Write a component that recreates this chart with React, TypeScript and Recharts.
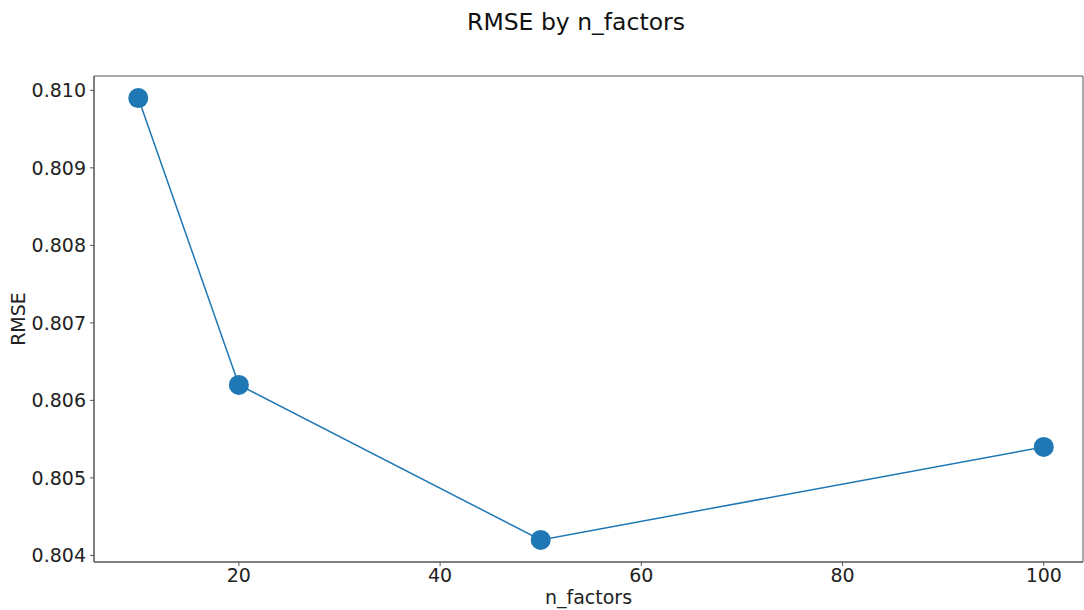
import React from 'react';
import { LineChart, Line, XAxis, YAxis, ReferenceArea } from 'recharts';

const nFactors = [10, 20, 50, 100];
const rmse = [0.8099, 0.8062, 0.8042, 0.8054];
const xTicks = [20, 40, 60, 80, 100];
const yTicks = [0.804, 0.805, 0.806, 0.807, 0.808, 0.809, 0.81];

const data = nFactors.map((n, i) => ({ n, rmse: rmse[i] }));

const X_DOMAIN: [number, number] = [5.6, 103.9];
const Y_DOMAIN: [number, number] = [0.803915, 0.810185];

const FONT = '"DejaVu Sans", sans-serif';
const frame = '#555';
const tickStyle = { fontSize: 19, fill: '#222', fontFamily: FONT };

export default function App() {
  return (
    <div style={{ position: 'absolute', left: 0, top: 0, width: 1084, height: 610, background: '#fff', fontFamily: FONT }}>
      <div style={{ position: 'absolute', top: 8, left: 0, width: 1152, textAlign: 'center', fontSize: 23.5, color: '#111' }}>
        RMSE by n_factors
      </div>
      <LineChart width={1084} height={610} data={data} margin={{ top: 76, right: 1, bottom: 0, left: 0 }}>
        <XAxis
          dataKey="n"
          type="number"
          domain={X_DOMAIN}
          ticks={xTicks}
          allowDataOverflow
          height={48}
          tickSize={4}
          tickMargin={3}
          stroke={frame}
          tick={tickStyle}
          label={{ value: 'n_factors', position: 'insideBottom', offset: 6, style: { fontSize: 19, fill: '#222', fontFamily: FONT } }}
        />
        <YAxis
          type="number"
          domain={Y_DOMAIN}
          ticks={yTicks}
          allowDataOverflow
          width={94}
          tickSize={4}
          tickMargin={4}
          stroke={frame}
          tick={tickStyle}
          tickFormatter={(v: number) => v.toFixed(3)}
          label={{ value: 'RMSE', angle: -90, position: 'insideLeft', offset: 18, style: { fontSize: 19, fill: '#222', fontFamily: FONT, textAnchor: 'middle' } }}
        />
        <ReferenceArea
          x1={X_DOMAIN[0]}
          x2={X_DOMAIN[1]}
          y1={Y_DOMAIN[0]}
          y2={Y_DOMAIN[1]}
          fill="none"
          fillOpacity={0}
          stroke={frame}
          strokeWidth={1}
          ifOverflow="visible"
        />
        <Line
          dataKey="rmse"
          type="linear"
          stroke="#1f77b4"
          strokeWidth={1.5}
          dot={{ r: 10, fill: '#1f77b4', stroke: '#1f77b4', strokeWidth: 0 }}
          isAnimationActive={false}
        />
      </LineChart>
    </div>
  );
}
